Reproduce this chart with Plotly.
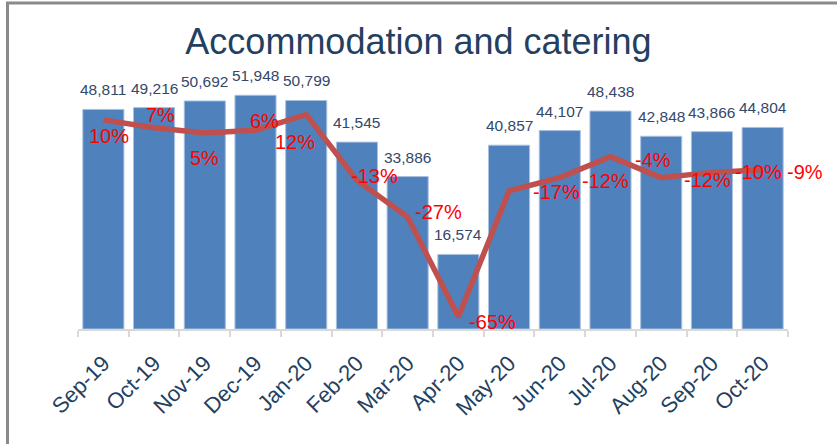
import plotly.graph_objects as go

months = ["Sep-19", "Oct-19", "Nov-19", "Dec-19", "Jan-20", "Feb-20", "Mar-20",
          "Apr-20", "May-20", "Jun-20", "Jul-20", "Aug-20", "Sep-20", "Oct-20"]
values = [48811, 49216, 50692, 51948, 50799, 41545, 33886,
          16574, 40857, 44107, 48438, 42848, 43866, 44804]
pct_change = [0.10, 0.07, 0.05, 0.06, 0.12, -0.13, -0.27,
              -0.65, -0.17, -0.12, -0.04, -0.12, -0.10, -0.09]

# label offsets (pixels) for the percentage labels: (xshift, yshift)
pct_offsets = [(6, -16), (6, 13), (0, -25), (9, 9), (-11, -27), (18, 4), (31, 5),
               (34, -5), (47, -1), (46, -3), (42, -3), (46, -2), (47, 0), (42, -2)]

FONT = "Arial, Liberation Sans, sans-serif"
NAVY = "#243F60"

fig = go.Figure()
fig.add_trace(go.Bar(
    x=months, y=values,
    marker=dict(color="#4F81BD", line=dict(color="#A9C0DF", width=1)),
    width=0.81, yaxis="y", hoverinfo="x+y",
))
fig.add_trace(go.Scatter(
    x=months, y=pct_change, mode="lines", yaxis="y2",
    line=dict(color="#C0504D", width=5.5), hoverinfo="x+y",
))

annotations = []
for m, v in zip(months, values):
    annotations.append(dict(
        x=m, y=v, xref="x", yref="y", text=f"{v:,}", showarrow=False,
        yanchor="bottom", xanchor="center", yshift=9,
        font=dict(family=FONT, size=15.5, color="#34486A"),
    ))
for m, p, (dx, dy) in zip(months, pct_change, pct_offsets):
    annotations.append(dict(
        x=m, y=p, xref="x", yref="y2", text=f"{round(p*100):d}%", showarrow=False,
        yanchor="middle", xanchor="center", xshift=dx, yshift=dy,
        font=dict(family=FONT, size=20, color="#FF0000"),
    ))

fig.update_layout(
    width=837, height=444,
    margin=dict(l=78, r=49, t=60, b=114.5),
    paper_bgcolor="white", plot_bgcolor="white",
    showlegend=False,
    bargap=0.19,
    title=dict(text="Accommodation and catering", x=0.5, xanchor="center",
               y=1 - 41 / 444, yanchor="middle", yref="container",
               font=dict(family=FONT, size=36, color=NAVY)),
    xaxis=dict(type="category", range=[-0.5, len(months) - 0.5], autorange=False,
               showgrid=False, showline=True, linecolor="#D9D9D9",
               linewidth=1.5, ticks="outside", tickson="boundaries", ticklen=6,
               tickcolor="#D9D9D9", tickwidth=1.5, tickangle=-45,
               ticklabelstandoff=11,
               tickfont=dict(family=FONT, size=22, color=NAVY)),
    yaxis=dict(range=[0, 59797], visible=False, showgrid=False),
    yaxis2=dict(range=[-0.6966, 0.328], overlaying="y", visible=False, showgrid=False),
    annotations=annotations,
    shapes=[dict(type="rect", xref="paper", yref="paper",
                 x0=(7.5 - 78) / 710, x1=(860 - 78) / 710,
                 y0=(329.5 - 470) / 269.5, y1=(329.5 - 3) / 269.5,
                 line=dict(color="#8A8A8A", width=3), layer="below")],
)

fig.write_html(
    "out.html",
    config={"displayModeBar": False},
    post_script="document.body.style.margin='0';document.body.style.overflow='hidden';",
)
